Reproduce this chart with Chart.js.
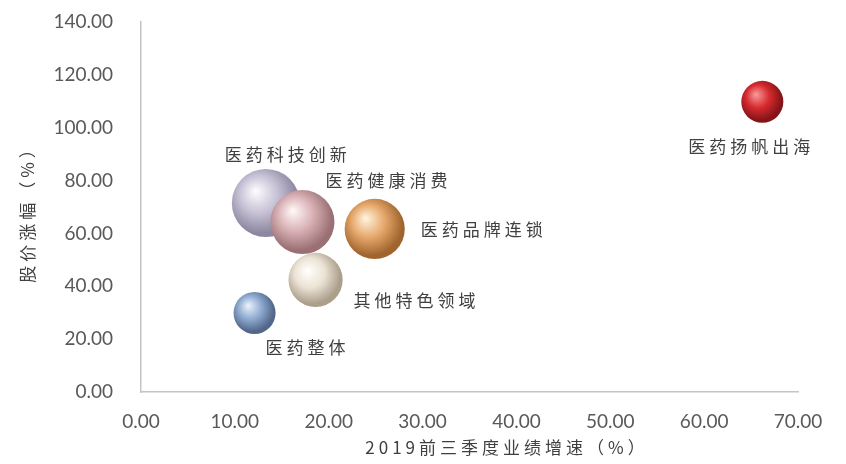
<!DOCTYPE html>
<html>
<head>
<meta charset="utf-8">
<script src="https://cdn.jsdelivr.net/npm/chart.js@4.4.0/dist/chart.umd.min.js"></script>
<style>
  html, body { margin: 0; padding: 0; background: #fff; }
  #wrap { width: 846px; height: 464px; }
</style>
</head>
<body>
<div id="wrap"><canvas id="chart"></canvas></div>
<script>
//sector names (one bubble each)
const sectors = ['医药整体', '医药科技创新', '医药健康消费', '医药品牌连锁', '其他特色领域', '医药扬帆出海'];
//2019 Q1-Q3 earnings growth (%), x axis
const growth = [12.1, 13.3, 17.2, 24.9, 18.6, 66.2];
//share price change (%), y axis
const priceChange = [29.9, 71.5, 64.3, 61.7, 42.4, 109.8];
//relative bubble size
const bubbleSize = [44, 115, 102, 90, 73, 44];

//tick labels
const xTicks = [0, 10, 20, 30, 40, 50, 60, 70];
const yTicks = [0, 20, 40, 60, 80, 100, 120, 140];

const xTitle = '2019前三季度业绩增速（%）';
const yTitle = '股价涨幅（%）';

//sphere colours: highlight, body, shadow edge
const sphereColors = [
    ['#e6eefa', '#8eaad0', '#52678a'],
    ['#faf9fd', '#c6c1d5', '#8d87a0'],
    ['#fdf4f4', '#d8b0b4', '#9a7074'],
    ['#fff0d8', '#e5a66a', '#a0652e'],
    ['#fffefb', '#ebe2d4', '#ab9e8b'],
    ['#f79494', '#d62a2e', '#841418'],
];

//label offset from the bubble centre (px)
const labelOffsets = [
    [51, 35], [20, -48], [84, -42], [107, 1], [99, 21], [-13, 45],
];

const maxSize = Math.max(...bubbleSize);
const radiusOf = (i) => 34 * Math.sqrt(bubbleSize[i] / maxSize);

//radial gradient to make each bubble look like a ball
const sphereFill = (context) => {
    const i = context.dataIndex;
    const chart = context.chart;
    if (i === undefined) return sphereColors[0][1];
    const c = sphereColors[i];
    if (!chart.scales.x || !chart.scales.y) return c[1];
    const cx = chart.scales.x.getPixelForValue(growth[i]);
    const cy = chart.scales.y.getPixelForValue(priceChange[i]);
    if (!isFinite(cx) || !isFinite(cy)) return c[1];
    const r = radiusOf(i);
    const g = chart.ctx.createRadialGradient(cx - r * 0.3, cy - r * 0.35, r * 0.04, cx - r * 0.12, cy - r * 0.15, r * 1.2);
    g.addColorStop(0, c[0]);
    g.addColorStop(0.45, c[1]);
    g.addColorStop(0.88, c[2]);
    g.addColorStop(1, c[2]);
    return g;
};

const points = growth.map((x, i) => ({ x: x, y: priceChange[i], r: radiusOf(i) }));

//draws bubble labels and axis titles
const textPlugin = {
    id: 'textPlugin',
    afterDraw(chart) {
        const ctx = chart.ctx;
        const xs = chart.scales.x;
        const ys = chart.scales.y;
        ctx.save();
        ctx.fillStyle = '#404040';
        ctx.font = '17px "Noto Sans CJK SC"';
        ctx.letterSpacing = '4px';
        ctx.textAlign = 'center';
        ctx.textBaseline = 'middle';
        sectors.forEach((name, i) => {
            const px = xs.getPixelForValue(growth[i]) + labelOffsets[i][0];
            const py = ys.getPixelForValue(priceChange[i]) + labelOffsets[i][1];
            ctx.fillText(name, px + 2, py);
        });

        ctx.fillText(xTitle, 507, 448);

        ctx.translate(28, 212);
        ctx.rotate(-Math.PI / 2);
        ctx.fillText(yTitle, 2, 0);
        ctx.restore();
    },
};

const tickFont = { family: 'Lato', size: 19 };

new Chart(document.getElementById('chart'), {
    type: 'bubble',
    data: {
        datasets: [
            {
                label: 'sectors',
                data: points,
                backgroundColor: sphereFill,
                borderWidth: 0,
                hoverRadius: 0,
                clip: false,
            },
        ],
    },
    options: {
        responsive: true,
        maintainAspectRatio: false,
        animation: false,
        events: [],
        //no auto padding, the bubbles would push the plot area in
        layout: { autoPadding: false, padding: { left: 0, top: 22, right: 48, bottom: 0 } },
        plugins: {
            legend: { display: false },
            tooltip: { enabled: false },
        },
        scales: {
            x: {
                type: 'linear',
                min: 0,
                max: 70,
                afterBuildTicks: (scale) => { scale.ticks = xTicks.map((v) => ({ value: v })); },
                afterFit: (scale) => { scale.height = 72; },
                grid: { display: false, drawTicks: false },
                border: { display: true, color: '#c4c4c4', width: 1.5 },
                ticks: {
                    color: '#595959',
                    font: tickFont,
                    padding: 18,
                    maxRotation: 0,
                    autoSkip: false,
                    callback: (v) => v.toFixed(2),
                },
            },
            y: {
                type: 'linear',
                min: 0,
                max: 140,
                afterBuildTicks: (scale) => { scale.ticks = yTicks.map((v) => ({ value: v })); },
                afterFit: (scale) => {
                    scale.width = 141;
                    //the tick padding would otherwise push the plot area down
                    scale.paddingTop = 0;
                    scale.paddingBottom = 0;
                },
                grid: { display: false, drawTicks: false },
                border: { display: true, color: '#c4c4c4', width: 1.5 },
                ticks: {
                    color: '#595959',
                    font: tickFont,
                    padding: 28,
                    autoSkip: false,
                    callback: (v) => v.toFixed(2),
                },
            },
        },
    },
    plugins: [textPlugin],
});
</script>
</body>
</html>
